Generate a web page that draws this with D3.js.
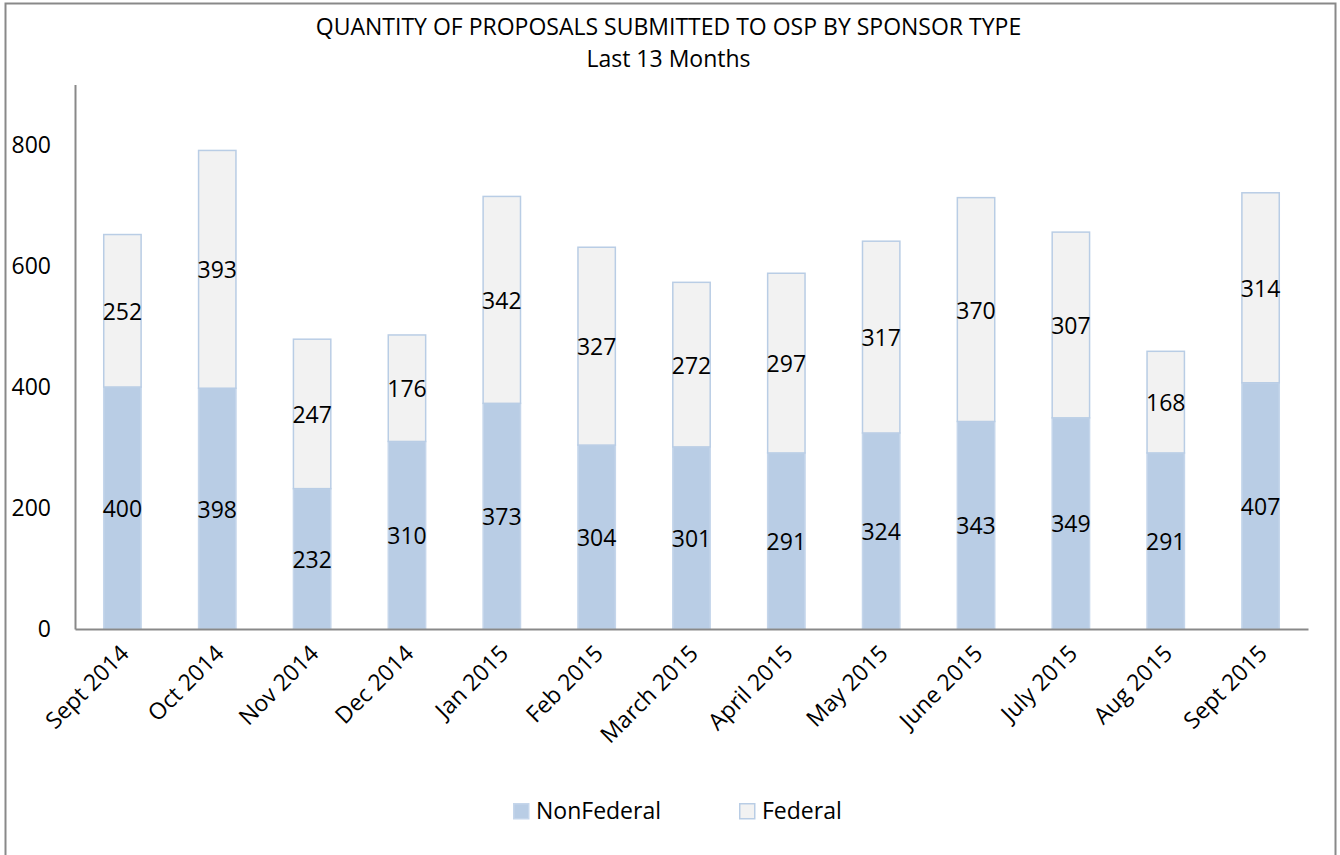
<!DOCTYPE html>
<html><head><meta charset="utf-8">
<script src="https://cdn.jsdelivr.net/npm/d3@7"></script>
<style>body{margin:0;background:#fff}svg{display:block;font-family:"Open Sans",sans-serif}</style>
</head><body>
<svg id="c" width="1340" height="855"></svg>
<script>
const months = ["Sept 2014","Oct 2014","Nov 2014","Dec 2014","Jan 2015","Feb 2015","March 2015","April 2015","May 2015","June 2015","July 2015","Aug 2015","Sept 2015"];
const nonFederal = [400,398,232,310,373,304,301,291,324,343,349,291,407];
const federal = [252,393,247,176,342,327,272,297,317,370,307,168,314];
const yTicks = [0,200,400,600,800];
const seriesNames = ["NonFederal","Federal"];
const titleText = "QUANTITY OF PROPOSALS SUBMITTED TO OSP BY SPONSOR TYPE";
const subtitleText = "Last 13 Months";

const svg = d3.select("#c");
const colors = {NonFederal:{fill:"#b9cde5",stroke:"#c5d6eb"},Federal:{fill:"#f2f2f2",stroke:"#b9cde5"}};
const FS = 23;

svg.append("rect").attr("x",5.5).attr("y",3.5).attr("width",1330).attr("height",900)
  .attr("fill","#fff").attr("stroke","#898989").attr("stroke-width",2);

const x = d3.scaleBand().domain(months).range([75,1308]).paddingInner(0.59).paddingOuter(0.295);
const y = d3.scaleLinear().domain([0,900]).range([629,84.5]);

const data = months.map((m,i)=>({month:m,NonFederal:nonFederal[i],Federal:federal[i]}));
const stack = d3.stack().keys(seriesNames)(data);

const g = svg.append("g");
stack.forEach(s=>{
  const key = s.key;
  g.selectAll(null).data(s).enter().append("rect")
    .attr("x",d=>x(d.data.month)+0.75)
    .attr("width",x.bandwidth()-1.5)
    .attr("y",d=>y(d[1]))
    .attr("height",d=>y(d[0])-y(d[1]))
    .attr("fill",colors[key].fill)
    .attr("stroke",colors[key].stroke)
    .attr("stroke-width",1.5);
});
stack.forEach(s=>{
  g.selectAll(null).data(s).enter().append("text")
    .attr("x",d=>x(d.data.month)+x.bandwidth()/2)
    .attr("y",d=>(y(d[0])+y(d[1]))/2)
    .attr("text-anchor","middle").attr("dominant-baseline","central")
    .attr("font-size",FS).attr("fill","#000")
    .text(d=>d[1]-d[0]);
});

// axes
const yAxis = svg.append("g").attr("transform","translate(75,0)")
  .call(d3.axisLeft(y).tickValues(yTicks).tickSize(0).tickPadding(24));
yAxis.select(".domain").attr("stroke","#898989").attr("stroke-width",2);
yAxis.selectAll("text").attr("font-size",FS).attr("fill","#000").attr("font-family","'Open Sans',sans-serif");

const xAxis = svg.append("g").attr("transform","translate(0,629)")
  .call(d3.axisBottom(x).tickSize(0).tickPadding(0));
xAxis.select(".domain").attr("stroke","#898989").attr("stroke-width",2);
xAxis.selectAll("text").attr("font-size",FS).attr("fill","#000").attr("font-family","'Open Sans',sans-serif")
  .attr("text-anchor","end").attr("dy",0).attr("y",0)
  .attr("transform","translate(8,26) rotate(-45)");

// title
svg.append("text").attr("x",668.5).attr("y",35).attr("text-anchor","middle")
  .attr("font-size",23).attr("fill","#000").text(titleText);
svg.append("text").attr("x",668.5).attr("y",67).attr("text-anchor","middle")
  .attr("font-size",23).attr("fill","#000").text(subtitleText);

// legend
const legendX = [513,739];
seriesNames.forEach((n,i)=>{
  svg.append("rect").attr("x",legendX[i]+0.75).attr("y",803.75).attr("width",15).attr("height",15)
    .attr("fill",colors[n].fill).attr("stroke",colors[n].stroke).attr("stroke-width",1.5);
  svg.append("text").attr("x",legendX[i]+23).attr("y",819).attr("font-size",FS).attr("fill","#000").text(n);
});
</script>
</body></html>
